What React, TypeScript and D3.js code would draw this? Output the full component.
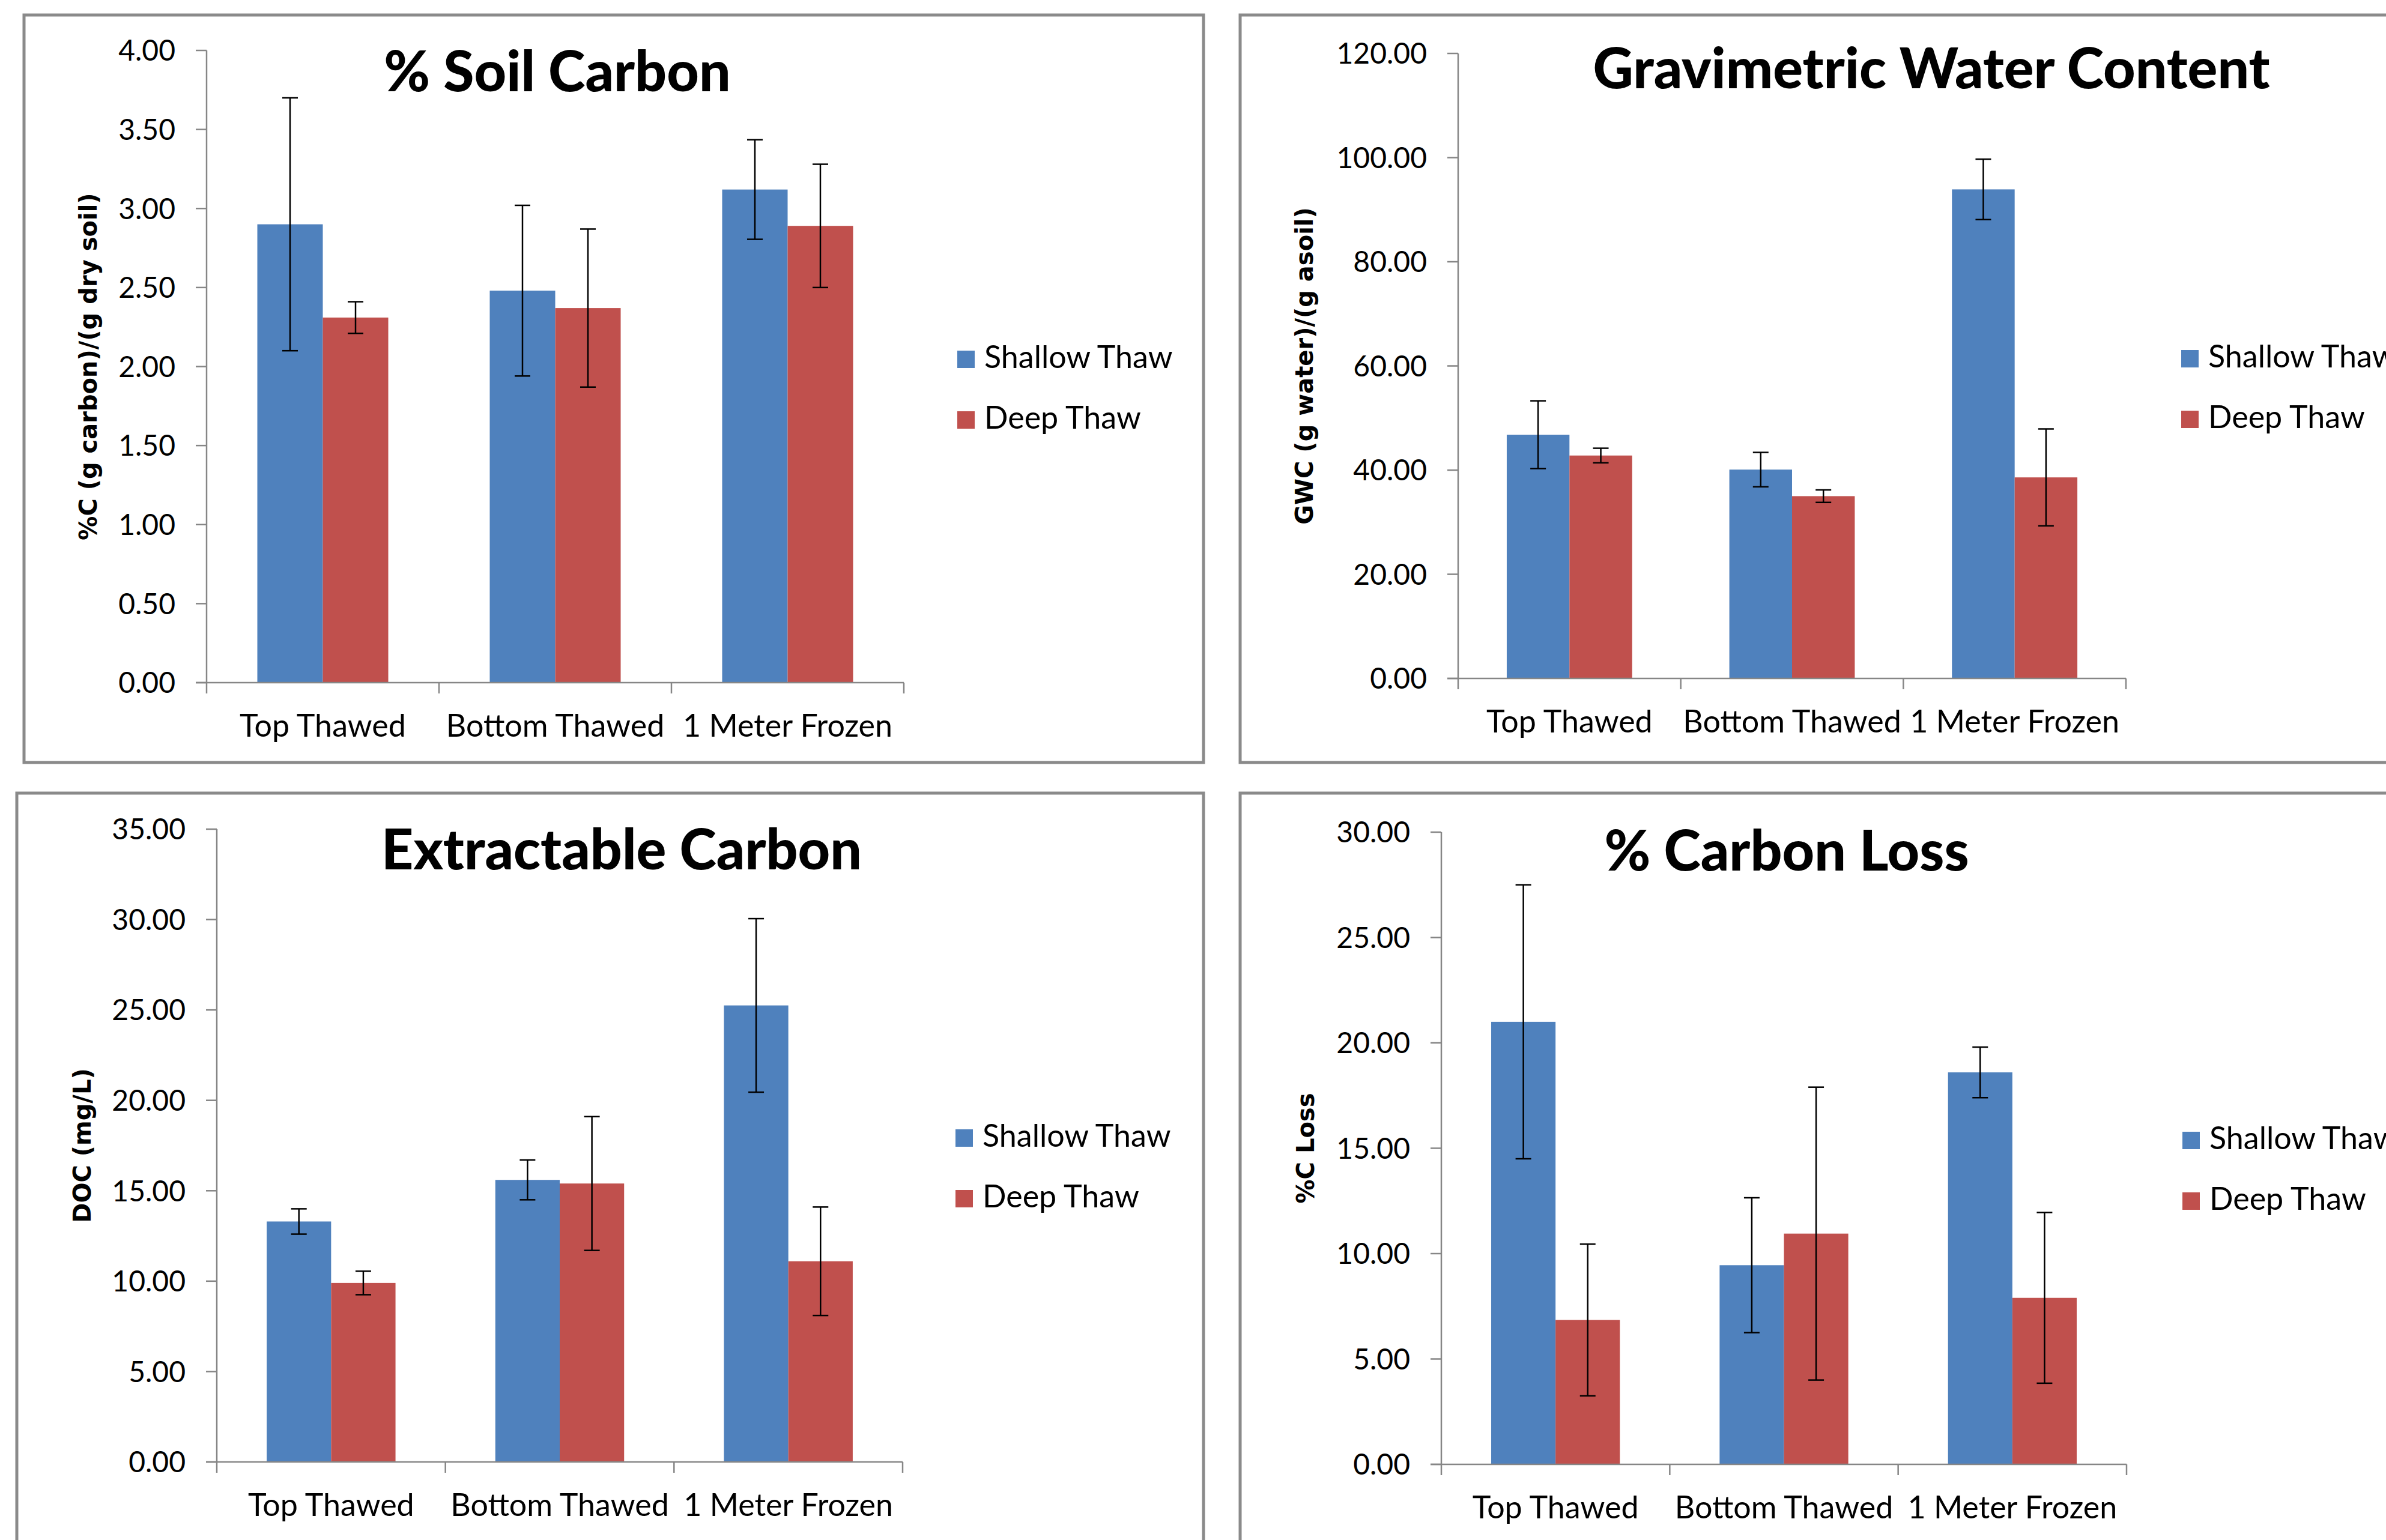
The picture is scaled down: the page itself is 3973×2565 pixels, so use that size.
import React from 'react'
import * as d3 from 'd3'

const categories = ['Top Thawed', 'Bottom Thawed', '1 Meter Frozen']
const seriesNames = ['Shallow Thaw', 'Deep Thaw']
const seriesColors = ['#4F81BD', '#C0504D']

// % Soil Carbon
const soilShallow = [2.9, 2.48, 3.12]
const soilShallowErr = [0.8, 0.54, 0.315]
const soilDeep = [2.31, 2.37, 2.89]
const soilDeepErr = [0.1, 0.5, 0.39]
const soilTicks = [0, 0.5, 1, 1.5, 2, 2.5, 3, 3.5, 4]

// Gravimetric Water Content
const gwcShallow = [46.8, 40.1, 93.9]
const gwcShallowErr = [6.5, 3.3, 5.8]
const gwcDeep = [42.8, 35.0, 38.6]
const gwcDeepErr = [1.4, 1.2, 9.3]
const gwcTicks = [0, 20, 40, 60, 80, 100, 120]

// Extractable Carbon
const docShallow = [13.3, 15.6, 25.25]
const docShallowErr = [0.7, 1.1, 4.8]
const docDeep = [9.9, 15.4, 11.1]
const docDeepErr = [0.65, 3.7, 3.0]
const docTicks = [0, 5, 10, 15, 20, 25, 30, 35]

// % Carbon Loss
const lossShallow = [21.0, 9.45, 18.6]
const lossShallowErr = [6.5, 3.2, 1.2]
const lossDeep = [6.85, 10.95, 7.9]
const lossDeepErr = [3.6, 6.95, 4.05]
const lossTicks = [0, 5, 10, 15, 20, 25, 30]

const FONT = 'Lato, "Open Sans", sans-serif'
const LABEL_FONT = '"DejaVu Sans", Verdana, sans-serif'
const AXIS_COLOR = '#868686'
const fmt = d3.format('.2f')

function Panel(props) {
  const { frame, plot, title, titleX, titleY, yLabel, yLabelX, legendX, legendY, ticks, values, errors } = props
  const y = d3.scaleLinear()
    .domain([ticks[0], ticks[ticks.length - 1]])
    .range([plot.bottom, plot.top])
  const x = d3.scaleBand().domain(categories).range([plot.left, plot.right])
  const xs = d3.scaleBand().domain(seriesNames).range([0, x.bandwidth()]).paddingOuter(0.775)
  const bw = xs.bandwidth()
  const edges = categories.map(c => x(c)).concat([plot.right])

  return (
    <g>
      <rect x={frame.x} y={frame.y} width={frame.w} height={frame.h}
        fill='#fff' stroke='#8a8a8a' strokeWidth={5} />

      {/* bars */}
      {seriesNames.map((s, si) => categories.map((c, ci) => (
        <rect key={s + c} x={x(c) + xs(s)} y={y(values[si][ci])}
          width={bw} height={y(0) - y(values[si][ci])} fill={seriesColors[si]} />
      )))}

      {/* error bars */}
      {seriesNames.map((s, si) => categories.map((c, ci) => {
        const cx = x(c) + xs(s) + bw / 2
        const hi = y(values[si][ci] + errors[si][ci])
        const lo = y(values[si][ci] - errors[si][ci])
        return (
          <g key={'e' + s + c} stroke='#000' strokeWidth={2.5}>
            <line x1={cx} x2={cx} y1={hi} y2={lo} />
            <line x1={cx - 13} x2={cx + 13} y1={hi} y2={hi} />
            <line x1={cx - 13} x2={cx + 13} y1={lo} y2={lo} />
          </g>
        )
      }))}

      {/* y axis */}
      <line x1={plot.left} x2={plot.left} y1={y(ticks[ticks.length - 1])} y2={y(0)}
        stroke={AXIS_COLOR} strokeWidth={2.5} />
      {ticks.map(t => (
        <g key={'t' + t}>
          <line x1={plot.left - 18} x2={plot.left} y1={y(t)} y2={y(t)} stroke={AXIS_COLOR} strokeWidth={2.5} />
          <text x={plot.left - 52} y={y(t)} dy='0.36em' textAnchor='end'
            fontFamily={FONT} fontSize={48} fill='#000'>{fmt(t)}</text>
        </g>
      ))}

      {/* x axis */}
      <line x1={plot.left - 18} x2={plot.right} y1={y(0)} y2={y(0)} stroke={AXIS_COLOR} strokeWidth={2.5} />
      {edges.map((e, i) => (
        <line key={'xt' + i} x1={e} x2={e} y1={y(0)} y2={y(0) + 18} stroke={AXIS_COLOR} strokeWidth={2.5} />
      ))}
      {categories.map(c => (
        <text key={'c' + c} x={x(c) + x.bandwidth() / 2} y={y(0) + 90} textAnchor='middle'
          fontFamily={FONT} fontSize={52} fill='#000'>{c}</text>
      ))}

      {/* titles */}
      <text x={titleX} y={titleY} textAnchor='middle' fontFamily={FONT} fontWeight={900}
        fontSize={93} fill='#000'>{title}</text>
      <text transform={`translate(${yLabelX},${(plot.top + plot.bottom) / 2}) rotate(-90)`}
        dy='0.36em' textAnchor='middle' fontFamily={LABEL_FONT} fontWeight='bold'
        fontSize={40} fill='#000'>{yLabel}</text>

      {/* legend */}
      {seriesNames.map((s, si) => (
        <g key={'l' + s} transform={`translate(${legendX},${legendY + si * 101})`}>
          <rect x={0} y={0} width={29} height={29} fill={seriesColors[si]} />
          <text x={45} y={29} fontFamily={FONT} fontSize={52} fill='#000'>{s}</text>
        </g>
      ))}
    </g>
  )
}

export default function App() {
  return (
    <svg width={3973} height={2565} style={{ position: 'absolute', left: 0, top: 0, background: '#fff' }}>
      <rect x={0} y={0} width={3973} height={2565} fill='#fff' />
      <Panel
        frame={{ x: 40, y: 25, w: 1964, h: 1245 }}
        plot={{ left: 344, right: 1505, top: 84, bottom: 1137 }}
        title='% Soil Carbon' titleX={928} titleY={152}
        yLabel='%C (g carbon)/(g dry soil)' yLabelX={147}
        legendX={1594} legendY={584}
        ticks={soilTicks}
        values={[soilShallow, soilDeep]} errors={[soilShallowErr, soilDeepErr]} />
      <Panel
        frame={{ x: 2065, y: 25, w: 2100, h: 1245 }}
        plot={{ left: 2428, right: 3540, top: 89, bottom: 1130 }}
        title='Gravimetric Water Content' titleX={3216} titleY={147}
        yLabel='GWC (g water)/(g asoil)' yLabelX={2172}
        legendX={3632} legendY={583}
        ticks={gwcTicks}
        values={[gwcShallow, gwcDeep]} errors={[gwcShallowErr, gwcDeepErr]} />
      <Panel
        frame={{ x: 28, y: 1321, w: 1976, h: 1400 }}
        plot={{ left: 361, right: 1503, top: 1381, bottom: 2435 }}
        title='Extractable Carbon' titleX={1035} titleY={1448}
        yLabel='DOC (mg/L)' yLabelX={137}
        legendX={1591} legendY={1881}
        ticks={docTicks}
        values={[docShallow, docDeep]} errors={[docShallowErr, docDeepErr]} />
      <Panel
        frame={{ x: 2065, y: 1321, w: 2100, h: 1400 }}
        plot={{ left: 2400, right: 3541, top: 1386, bottom: 2439 }}
        title='% Carbon Loss' titleX={2975} titleY={1450}
        yLabel='%C Loss' yLabelX={2174}
        legendX={3634} legendY={1885}
        ticks={lossTicks}
        values={[lossShallow, lossDeep]} errors={[lossShallowErr, lossDeepErr]} />
    </svg>
  )
}
